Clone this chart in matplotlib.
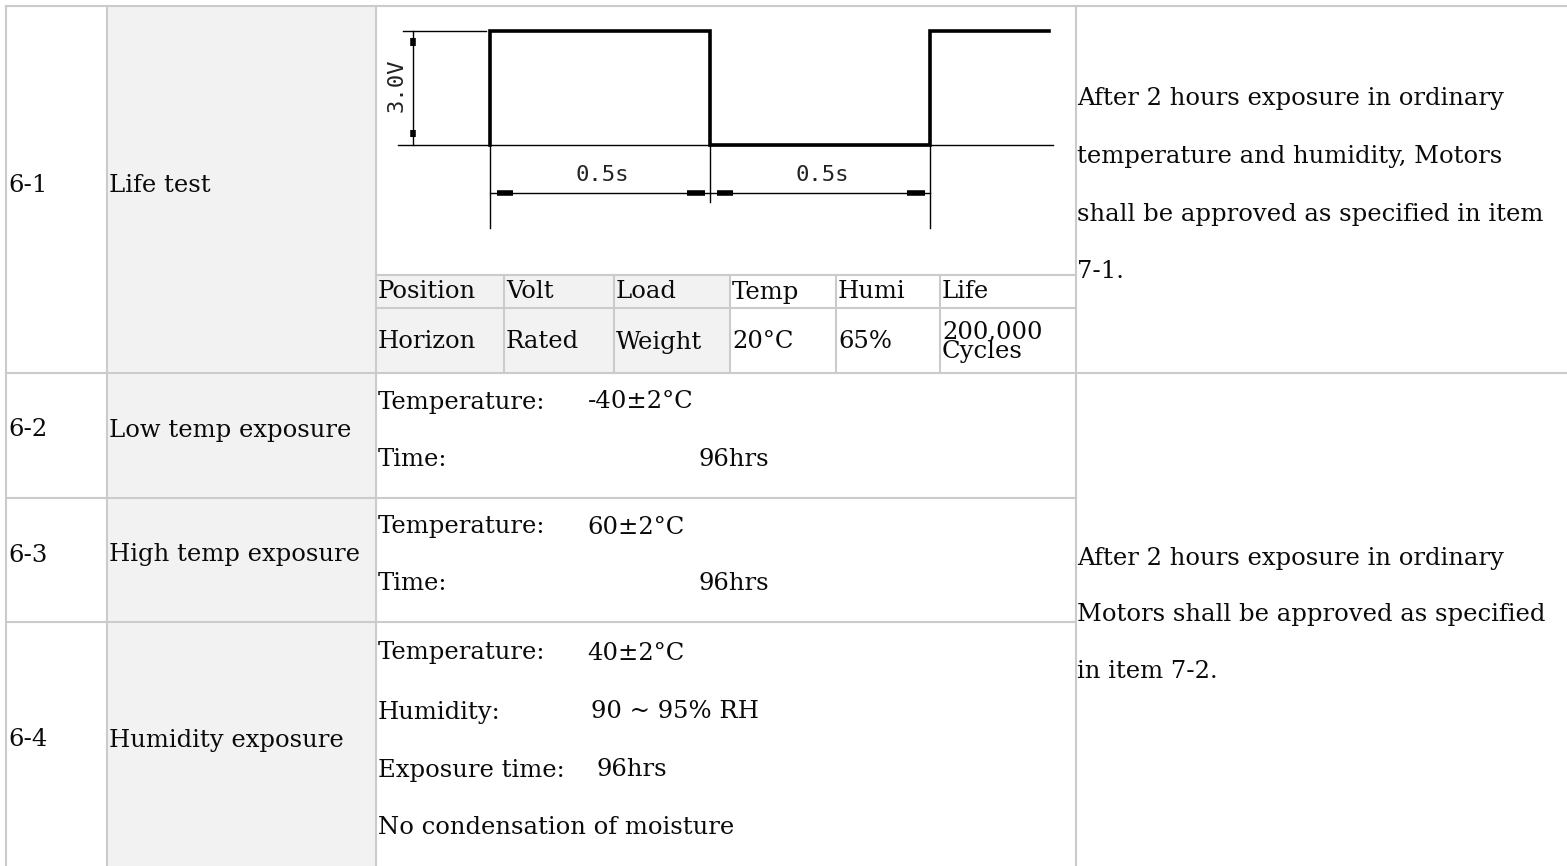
import matplotlib
matplotlib.use("Agg")
import matplotlib.pyplot as plt

# ---- table content ----
row_ids = ["6-1", "6-2", "6-3", "6-4"]
row_items = ["Life test", "Low temp exposure", "High temp exposure", "Humidity exposure"]

life_header = ["Position", "Volt", "Load", "Temp", "Humi", "Life"]
life_values = ["Horizon", "Rated", "Weight", "20°C", "65%", "200,000\nCycles"]

cond_labels = [
    ["Temperature:", "Time:"],
    ["Temperature:", "Time:"],
    ["Temperature:", "Humidity:", "Exposure time:", "No condensation of moisture"],
]
cond_values = [
    ["-40±2°C", "96hrs"],
    ["60±2°C", "96hrs"],
    ["40±2°C", "90 ~ 95% RH", "96hrs", ""],
]

result_61 = ["After 2 hours exposure in ordinary",
             "temperature and humidity, Motors",
             "shall be approved as specified in item",
             "7-1."]
result_62 = ["After 2 hours exposure in ordinary",
             "Motors shall be approved as specified",
             "in item 7-2."]

# waveform of the life test: 3.0 V for 0.5 s, 0 V for 0.5 s
wave_t = [0.0, 0.0, 0.5, 0.5, 1.0, 1.0, 1.27]
wave_v = [0.0, 3.0, 3.0, 0.0, 0.0, 3.0, 3.0]
volt_label = "3.0V"
step_label = "0.5s"

# ---- layout (pixels) ----
W, H = 1567, 866
col_x = [6, 107, 376, 1076]
row_y = [6, 373, 498, 622]
sub_x = [376, 504, 614, 730, 836, 940, 1076]
sub_y = [275, 308, 373]
grid_c = "#cbcbcb"
shade = "#f2f2f2"
ink = "#0a0a0a"
serif = "DejaVu Serif"
fs = 17.5

fig = plt.figure(figsize=(W / 100, H / 100), dpi=100)
ax = fig.add_axes([0, 0, 1, 1])
ax.set_xlim(0, W)
ax.set_ylim(H, 0)
ax.axis("off")

# shaded item column and shaded part of the sub table
ax.fill_between([col_x[1], col_x[2]], row_y[0], H, color=shade, lw=0)
ax.fill_between([sub_x[0], sub_x[3]], sub_y[0], sub_y[2], color=shade, lw=0)

lw = 1.5
# horizontal rules
ax.plot([col_x[0], W], [row_y[0]] * 2, color=grid_c, lw=lw)
ax.plot([col_x[0], W], [row_y[1]] * 2, color=grid_c, lw=lw)
for y in row_y[2:]:
    ax.plot([col_x[0], col_x[3]], [y, y], color=grid_c, lw=lw)
for y in sub_y[:2]:
    ax.plot([sub_x[0], sub_x[-1]], [y, y], color=grid_c, lw=lw)
# vertical rules
for x in col_x:
    ax.plot([x, x], [row_y[0], H], color=grid_c, lw=lw)
for x in sub_x[1:-1]:
    ax.plot([x, x], [sub_y[0], sub_y[2]], color=grid_c, lw=lw)

# id + item columns
id_y = [185, 430, 555, 740]
for rid, item, y in zip(row_ids, row_items, id_y):
    ax.text(col_x[0] + 2, y, rid, fontsize=fs, family=serif, color=ink, va="center")
    ax.text(col_x[1] + 2, y, item, fontsize=fs, family=serif, color=ink, va="center")

# life test sub table
for i, (h, v) in enumerate(zip(life_header, life_values)):
    ax.text(sub_x[i] + 2, 292, h, fontsize=fs, family=serif, color=ink, va="center")
    ax.text(sub_x[i] + 2, 342, v, fontsize=fs, family=serif, color=ink, va="center",
            linespacing=0.8)

# conditions
cond_y = [[402, 460], [527, 583], [653, 712, 770, 827]]
val_x = [[588, 698], [587, 698], [587, 591, 597, 0]]
for labels, vals, ys, xs in zip(cond_labels, cond_values, cond_y, val_x):
    for lab, val, y, x in zip(labels, vals, ys, xs):
        ax.text(col_x[2] + 2, y, lab, fontsize=fs, family=serif, color=ink, va="center")
        if val:
            ax.text(x, y, val, fontsize=fs, family=serif, color=ink, va="center")

# results
for i, line in enumerate(result_61):
    ax.text(col_x[3] + 1, 99 + i * 57.5, line, fontsize=fs, family=serif, color=ink, va="center")
for i, line in enumerate(result_62):
    ax.text(col_x[3] + 1, 558 + i * 57, line, fontsize=fs, family=serif, color=ink, va="center")

# ---- waveform drawing in its own axes: x in seconds, y in volts ----
px_per_s = 440.0
px_per_v = 38.1
x0_px, base_px = 490, 145
box = (col_x[2] + 2, row_y[0] + 2, col_x[3] - 2, sub_y[0] - 2)
wax = fig.add_axes([box[0] / W, 1 - box[3] / H, (box[2] - box[0]) / W, (box[3] - box[1]) / H])
wax.set_xlim((box[0] - x0_px) / px_per_s, (box[2] - x0_px) / px_per_s)
wax.set_ylim((base_px - box[3]) / px_per_v, (base_px - box[1]) / px_per_v)
wax.axis("off")

hi = max(wave_v)
t_hi_end = wave_t[2]
t_period = wave_t[4]
dim_y = -1.26
ext_y = -2.18
k = "#000000"

wax.plot([-0.21, 1.28], [0, 0], color=k, lw=1.0)
wax.plot([-0.198, -0.01], [hi, hi], color=k, lw=1.0)
wax.plot(wave_t, wave_v, color=k, lw=2.6, solid_joinstyle="miter")

# voltage dimension
wax.plot([-0.175, -0.175], [0, hi], color=k, lw=1.0)
wax.plot([-0.175, -0.175], [hi - 0.2, hi - 0.4], color=k, lw=4, solid_capstyle="butt")
wax.plot([-0.175, -0.175], [0.2, 0.4], color=k, lw=4, solid_capstyle="butt")
wax.text(-0.212, hi / 2 + 0.08, volt_label, rotation=90, ha="center", va="center",
         fontsize=16, family="DejaVu Sans Mono", color="#222222")

# time dimensions
wax.plot([0, 0], [0, ext_y], color=k, lw=1.0)
wax.plot([t_hi_end, t_hi_end], [0, -1.5], color=k, lw=1.0)
wax.plot([t_period, t_period], [0, ext_y], color=k, lw=1.0)
for a, b in [(0, t_hi_end), (t_hi_end, t_period)]:
    wax.plot([a, b], [dim_y, dim_y], color=k, lw=1.0)
    wax.plot([a + 0.016, a + 0.052], [dim_y, dim_y], color=k, lw=4, solid_capstyle="butt")
    wax.plot([b - 0.052, b - 0.012], [dim_y, dim_y], color=k, lw=4, solid_capstyle="butt")
    wax.text((a + b) / 2 + 0.005, -0.8, step_label, ha="center", va="center",
             fontsize=16, family="DejaVu Sans Mono", color="#222222")

fig.savefig("out.png", dpi=100)
